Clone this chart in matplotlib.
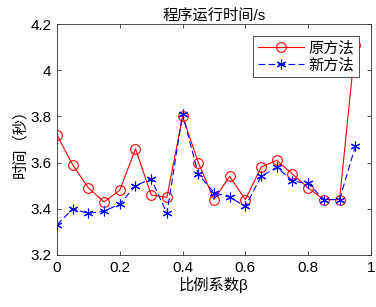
import matplotlib
matplotlib.use("Agg")
import matplotlib.pyplot as plt
from matplotlib.ticker import FuncFormatter

plt.rcParams["font.family"] = ["Liberation Sans", "Noto Sans CJK SC", "DejaVu Sans"]

beta = [0.0, 0.05, 0.1, 0.15, 0.2, 0.25, 0.3, 0.35, 0.4, 0.45,
        0.5, 0.55, 0.6, 0.65, 0.7, 0.75, 0.8, 0.85, 0.9, 0.95]
old_method = [3.72, 3.59, 3.49, 3.43, 3.48, 3.66, 3.46, 3.45, 3.80, 3.60,
              3.44, 3.54, 3.44, 3.58, 3.61, 3.55, 3.49, 3.44, 3.44, 4.11]
new_method = [3.33, 3.40, 3.38, 3.39, 3.42, 3.50, 3.53, 3.38, 3.81, 3.55,
              3.47, 3.45, 3.41, 3.54, 3.58, 3.52, 3.51, 3.44, 3.44, 3.67]
labels = ["原方法", "新方法"]

fig = plt.figure(figsize=(3.76, 3.07), dpi=100)
ax = fig.add_axes([0.1516, 0.1694, 0.835, 0.7524])

ax.plot(beta, old_method, color="#ff0000", linestyle="-", linewidth=0.8,
        marker="o", markersize=7, markerfacecolor="none", markeredgewidth=0.8,
        label=labels[0])
# MATLAB-style asterisk marker, longer dashes
ax.plot(beta, new_method, color="#0000ff", linestyle=(0, (6, 3)), linewidth=0.8,
        marker=(6, 2, 0), markersize=7, markeredgewidth=0.8, label=labels[1])

ax.set_xlim(0, 1)
ax.set_ylim(3.2, 4.2)
ax.set_xticks([0, 0.2, 0.4, 0.6, 0.8, 1])
ax.set_yticks([3.2, 3.4, 3.6, 3.8, 4.0, 4.2])
fmt = FuncFormatter(lambda v, p: f"{v:g}")
ax.xaxis.set_major_formatter(fmt)
ax.yaxis.set_major_formatter(fmt)
ax.tick_params(direction="in", top=True, right=True, length=3, width=0.5,
               labelsize=11, pad=4)
for s in ax.spines.values():
    s.set_linewidth(0.6)
    s.set_color("#333333")

ax.set_title("程序运行时间/s", fontsize=11, pad=3)
ax.set_xlabel("比例系数β", fontsize=11, labelpad=2)
ax.set_ylabel("时间（秒）", fontsize=11, labelpad=2)

leg = ax.legend(loc="upper right", fontsize=11, fancybox=False, framealpha=1,
                edgecolor="#333333", borderpad=0.3, handlelength=3.0,
                handletextpad=0.3, labelspacing=0.2, borderaxespad=0.8)
leg.get_frame().set_linewidth(0.6)

fig.savefig("out.png", dpi=100)
